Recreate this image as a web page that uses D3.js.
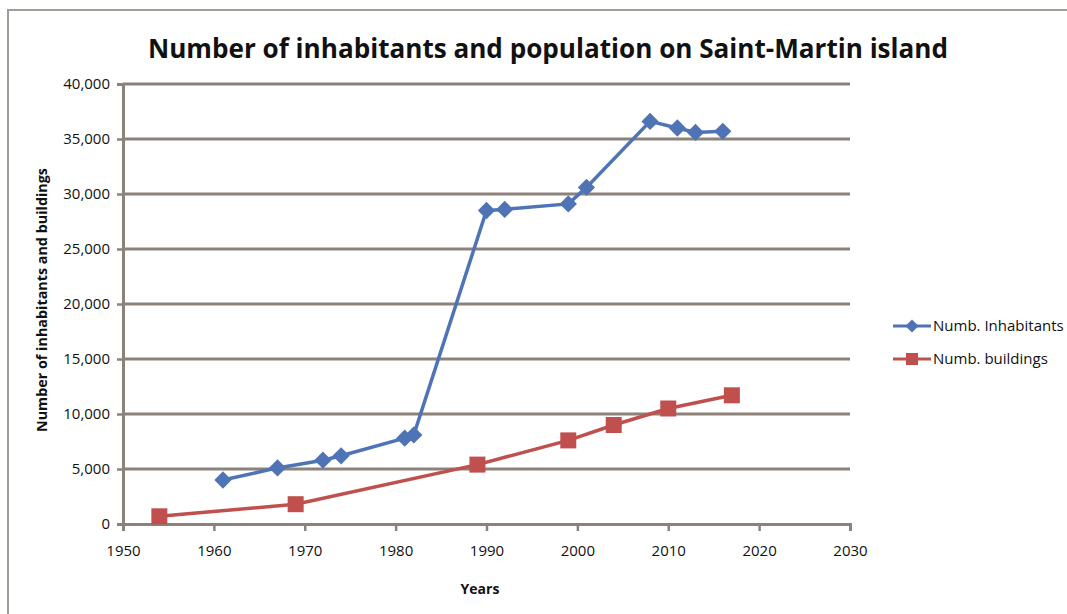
<!DOCTYPE html>
<html>
<head>
<meta charset="utf-8">
<script src="https://cdn.jsdelivr.net/npm/d3@7"></script>
<style>
  body { margin: 0; background: #fff; }
  text { font-family: "Open Sans", "Noto Sans", sans-serif; fill: #111; }
</style>
</head>
<body>
<svg id="chart"></svg>
<script>
// Data
const inhabYears = [1961, 1967, 1972, 1974, 1981, 1982, 1990, 1992, 1999, 2001, 2008, 2011, 2013, 2016];
const inhabValues = [4000, 5100, 5800, 6200, 7800, 8100, 28500, 28600, 29100, 30600, 36600, 36000, 35600, 35700];
const buildYears = [1954, 1969, 1989, 1999, 2004, 2010, 2017];
const buildValues = [700, 1800, 5400, 7600, 9000, 10500, 11700];
const xTicks = [1950, 1960, 1970, 1980, 1990, 2000, 2010, 2020, 2030];
const yTicks = [0, 5000, 10000, 15000, 20000, 25000, 30000, 35000, 40000];

const width = 1067, height = 614;
const svg = d3.select("#chart").attr("width", width).attr("height", height);

const gridColor = "#8c8279";
const blue = "#4f74b6", red = "#c0504d";

// outer frame
svg.append("path")
  .attr("d", `M8,${height} L8,10 L${width},10`)
  .attr("fill", "none")
  .attr("stroke", "#a39c96")
  .attr("stroke-width", 2);

const x = d3.scaleLinear().domain([1950, 2030]).range([123, 850]);
const y = d3.scaleLinear().domain([0, 40000]).range([524, 84]);

// gridlines
svg.append("g")
  .selectAll("line")
  .data(yTicks.slice(1))
  .join("line")
  .attr("x1", x(1950)).attr("x2", x(2030))
  .attr("y1", d => y(d)).attr("y2", d => y(d))
  .attr("stroke", gridColor)
  .attr("stroke-width", 3);

// y axis
const yAxis = svg.append("g")
  .attr("transform", `translate(${x(1950)},0)`)
  .call(d3.axisLeft(y).tickValues(yTicks).tickSize(6).tickPadding(7).tickFormat(d3.format(",")));
yAxis.select(".domain").attr("stroke", gridColor).attr("stroke-width", 3);
yAxis.selectAll(".tick line").attr("stroke", gridColor).attr("stroke-width", 2.5);
yAxis.selectAll("text").attr("font-size", 15).attr("fill", "#111")
  .style("font-family", "'Open Sans', sans-serif");

// x axis
const xAxis = svg.append("g")
  .attr("transform", `translate(0,${y(0)})`)
  .call(d3.axisBottom(x).tickValues(xTicks).tickSize(7).tickPadding(14).tickFormat(d3.format("d")));
xAxis.select(".domain").attr("stroke", gridColor).attr("stroke-width", 3);
xAxis.selectAll(".tick line").attr("stroke", gridColor).attr("stroke-width", 2.5);
xAxis.selectAll("text").attr("font-size", 15).attr("fill", "#111")
  .style("font-family", "'Open Sans', sans-serif");

// lines
const line = d3.line().x(d => x(d[0])).y(d => y(d[1]));
const inhab = inhabYears.map((yr, i) => [yr, inhabValues[i]]);
const build = buildYears.map((yr, i) => [yr, buildValues[i]]);

svg.append("path").datum(build).attr("d", line)
  .attr("fill", "none").attr("stroke", red).attr("stroke-width", 3.5);
svg.append("path").datum(inhab).attr("d", line)
  .attr("fill", "none").attr("stroke", blue).attr("stroke-width", 3.5);

const diamond = d3.symbol().type(d3.symbolDiamond2).size(190);
svg.append("g").selectAll("path")
  .data(inhab).join("path")
  .attr("d", diamond)
  .attr("transform", d => `translate(${x(d[0])},${y(d[1])})`)
  .attr("fill", blue);

svg.append("g").selectAll("rect")
  .data(build).join("rect")
  .attr("x", d => x(d[0]) - 8).attr("y", d => y(d[1]) - 8)
  .attr("width", 16).attr("height", 16)
  .attr("fill", red);

// title
svg.append("text")
  .attr("x", 548).attr("y", 58)
  .attr("text-anchor", "middle")
  .attr("font-size", 26).attr("font-weight", "bold")
  .attr("textLength", 800).attr("lengthAdjust", "spacingAndGlyphs")
  .text("Number of inhabitants and population on Saint-Martin island");

// axis titles
svg.append("text")
  .attr("transform", "translate(47,300) rotate(-90)")
  .attr("text-anchor", "middle")
  .attr("font-size", 14).attr("font-weight", "bold")
  .attr("textLength", 264).attr("lengthAdjust", "spacingAndGlyphs")
  .text("Number of inhabitants and buildings");

svg.append("text")
  .attr("x", 480).attr("y", 594)
  .attr("text-anchor", "middle")
  .attr("font-size", 14).attr("font-weight", "bold")
  .text("Years");

// legend
const legend = [
  { name: "Numb. Inhabitants", color: blue, shape: "diamond", y: 326 },
  { name: "Numb. buildings", color: red, shape: "square", y: 359 }
];
const lg = svg.append("g").selectAll("g").data(legend).join("g")
  .attr("transform", d => `translate(893,${d.y})`);
lg.append("line").attr("x1", 0).attr("x2", 38).attr("y1", 0).attr("y2", 0)
  .attr("stroke", d => d.color).attr("stroke-width", 3);
lg.each(function (d) {
  const g = d3.select(this);
  if (d.shape === "diamond") {
    g.append("path").attr("d", d3.symbol().type(d3.symbolDiamond2).size(110))
      .attr("transform", "translate(19,0)").attr("fill", d.color);
  } else {
    g.append("rect").attr("x", 13).attr("y", -6).attr("width", 12).attr("height", 12)
      .attr("fill", d.color);
  }
});
lg.append("text").attr("x", 40).attr("y", 5)
  .attr("font-size", 15)
  .text(d => d.name);
</script>
</body>
</html>
